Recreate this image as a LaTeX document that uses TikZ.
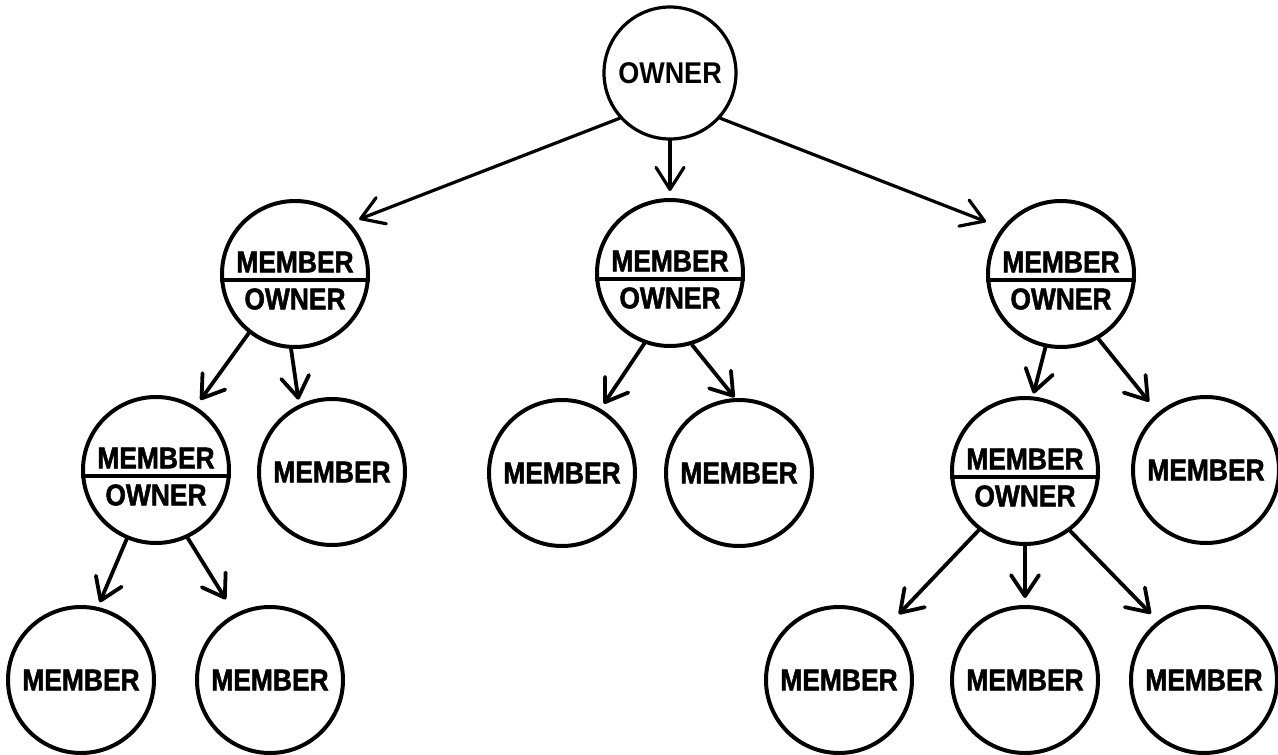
\documentclass[tikz,border=0pt]{standalone}
\usepackage{fontspec}
\newfontfamily\labfont[FakeStretch=0.88, FakeBold=1.6]{Liberation Sans Bold}
\newfontfamily\rootfont[FakeStretch=0.9]{Liberation Sans Bold}
\usetikzlibrary{arrows.meta}
\tikzset{
  circ/.style={circle, draw, line width=4pt, minimum size=146pt, inner sep=0pt},
  topcirc/.style={circle, draw, line width=3.2pt, minimum size=132pt, inner sep=0pt},
  txt/.style={inner sep=0pt, font=\labfont\fontsize{30}{31}\selectfont},
  txtlight/.style={inner sep=0pt, font=\rootfont\fontsize{30}{31}\selectfont},
  link/.style={line width=3.8pt, line cap=round,
    -{Straight Barb[length=21pt,width=28pt,round]}},
  toplink/.style={line width=3.2pt, line cap=round,
    -{Straight Barb[length=22pt,width=28pt,round]}},
  divider/.style={line width=3.6pt}
}
% a circle split into MEMBER over OWNER
\newcommand{\splitnode}[2]{%
  \node[circ] (#1) at #2 {};
  \draw[divider] ([yshift=-6pt]#1.west) -- ([yshift=-6pt]#1.east);
  \node[txt] (#1-m) at ([yshift=12pt]#1.center) {MEMBER};
  \node[txt] (#1-o) at ([yshift=-25pt]#1.center) {OWNER};
}
\begin{document}
\begin{tikzpicture}[x=1pt, y=-1pt]
\useasboundingbox (0,0) rectangle (1278,755);

% root
\node[topcirc, txtlight] (root) at (670,73) {OWNER};

% first level
\splitnode{l1a}{(295,274)}
\splitnode{l1b}{(670,273)}
\splitnode{l1c}{(1061,274)}

% second level
\splitnode{lla}{(156,470)}
\node[circ, txt] (llb) at (332,472) {MEMBER};
\node[circ, txt] (mla) at (562,473) {MEMBER};
\node[circ, txt] (mlb) at (739,473) {MEMBER};
\splitnode{rla}{(1025,471)}
\node[circ, txt] (rlb) at (1206,470) {MEMBER};

% third level
\node[circ, txt] (l3a) at (81,680) {MEMBER};
\node[circ, txt] (l3b) at (270,680) {MEMBER};
\node[circ, txt] (l3c) at (839,680) {MEMBER};
\node[circ, txt] (l3d) at (1025,680) {MEMBER};
\node[circ, txt] (l3e) at (1204,680) {MEMBER};

% connectors
\draw[toplink, shorten >=10pt] (root.222) -- (l1a.43);
\draw[toplink, shorten >=7pt]  (root.270) -- (l1b.90);
\draw[toplink, shorten >=17pt] (root.318) -- (l1c.142);

\draw[link, shorten >=8pt]  (l1a.232) -- (lla.58);
\draw[link, shorten >=5pt]  (l1a.267) -- (llb.116);
\draw[link, shorten >=6pt]  (l1b.250) -- (mla.59);
\draw[link, shorten >=1pt]  (l1b.287) -- (mlb.93);
\draw[link, shorten >=3pt]  (l1c.258) -- (rla.84);
\draw[link, shorten >=14pt] (l1c.300) -- (rlb.130);

\draw[link, shorten >=5pt]  (lla.247) -- (l3a.77);
\draw[link, shorten >=17pt] (lla.295) -- (l3b.118);
\draw[link, shorten >=14pt] (rla.232) -- (l3c.48);
\draw[link, shorten >=7pt]  (rla.270) -- (l3d.90);
\draw[link, shorten >=10pt] (rla.307) -- (l3e.128);
\end{tikzpicture}
\end{document}
